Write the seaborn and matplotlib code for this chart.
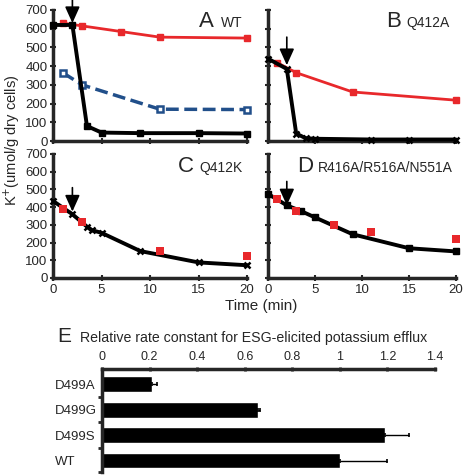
import numpy as np
import pandas as pd
import matplotlib
matplotlib.use("Agg")
import matplotlib.pyplot as plt
import seaborn as sns

# values
# panel A (WT)
a_black_t = [0, 2, 3.5, 5, 9, 15, 20]
a_black_k = [620, 620, 80, 45, 42, 42, 40]
a_red_t = [1, 3, 7, 11, 20]
a_red_k = [630, 615, 585, 555, 550]
a_blue_t = [1, 3, 11, 20]
a_blue_k = [365, 300, 170, 168]
# panel B (Q412A)
b_black_t = [0, 2, 3, 4, 5, 11, 15, 20]
b_black_k = [440, 385, 40, 15, 12, 8, 8, 8]
b_red_t = [1, 3, 9, 20]
b_red_k = [418, 365, 262, 218]
# panel C (Q412K)
c_black_t = [0, 2, 3.5, 4, 5, 9, 15, 20]
c_black_k = [435, 360, 290, 270, 255, 152, 88, 72]
c_red_t = [1, 3, 11, 20]
c_red_k = [388, 315, 155, 122]
# panel D (R416A/R516A/N551A)
d_black_t = [0, 2, 3.5, 5, 9, 15, 20]
d_black_k = [475, 410, 378, 342, 247, 168, 150]
d_red_t = [1, 3, 7, 11, 20]
d_red_k = [445, 380, 300, 260, 218]
# panel E
e_labels = ["D499A", "D499G", "D499S", "WT"]
e_rate = [0.21, 0.655, 1.19, 1.0]
e_err = [0.02, 0.01, 0.1, 0.2]

RED = "#e8282b"
BLUE = "#214f8a"
BLACK = "black"

sns.set_style("ticks")
plt.rcParams["font.family"] = ["Liberation Sans", "DejaVu Sans"]

fig = plt.figure(figsize=(4.64, 4.76), dpi=100)

W, H = 464.0, 476.0
def box(x0, y0, x1, y1):
    # pixel box -> figure fraction
    return [x0 / W, 1 - y1 / H, (x1 - x0) / W, (y1 - y0) / H]

axA = fig.add_axes(box(53, 10, 247, 141))
axB = fig.add_axes(box(268, 10, 456, 141))
axC = fig.add_axes(box(53, 154, 247, 278))
axD = fig.add_axes(box(268, 154, 456, 278))
axE = fig.add_axes(box(102, 369, 435, 472))


def line(ax, t, k, color, marker, lw=2.5, ms=4, ls="-", mfc=None, mew=1):
    df = pd.DataFrame({"t": t, "k": k})
    sns.lineplot(data=df, x="t", y="k", ax=ax, color=color, lw=lw, ls=ls,
                 marker=marker, markersize=ms, markeredgecolor=color,
                 markerfacecolor=mfc if mfc else color, markeredgewidth=mew,
                 clip_on=False, zorder=3)


def dots(ax, t, k, color):
    df = pd.DataFrame({"t": t, "k": k})
    sns.scatterplot(data=df, x="t", y="k", ax=ax, color=color, marker="s",
                    s=26, linewidth=0, clip_on=False, zorder=4)


def style(ax, xlabels, ylabels):
    ax.set_xlim(0, 20)
    ax.set_ylim(0, 700)
    ax.set_xticks([0, 5, 10, 15, 20])
    ax.set_yticks(range(0, 701, 100))
    for s in ["top", "right"]:
        ax.spines[s].set_visible(False)
    for s in ["left", "bottom"]:
        ax.spines[s].set_linewidth(2.5)
    ax.tick_params(direction="inout", length=4, width=1.5, labelsize=9.5, pad=2)
    if not xlabels:
        ax.set_xticklabels([])
    if not ylabels:
        ax.set_yticklabels([])
    ax.set_xlabel("")
    ax.set_ylabel("")


def arrow(ax, tail, tip):
    ax.annotate("", xy=(2, tip), xytext=(2, tail), xycoords="data",
                annotation_clip=False,
                arrowprops=dict(arrowstyle="-|>,head_length=1.0,head_width=0.45",
                                color="black", lw=1.2, shrinkA=0, shrinkB=0),
                zorder=6)


def label(ax, x1, x2, yb, big, small):
    ax.text(x1, yb, big, transform=ax.transAxes, fontsize=16, va="baseline")
    ax.text(x2, yb, small, transform=ax.transAxes, fontsize=10, va="baseline")


# A
line(axA, a_red_t, a_red_k, RED, "s", lw=2)
line(axA, a_blue_t, a_blue_k, BLUE, "s", lw=2.5, ls="--", ms=4, mfc="white", mew=1.8)
line(axA, a_black_t, a_black_k, BLACK, "s", lw=2.8, ms=5)
style(axA, False, True)
arrow(axA, 755, 630)
label(axA, 0.75, 0.865, 0.87, "A", "WT")

# B
line(axB, b_red_t, b_red_k, RED, "s", lw=2)
line(axB, b_black_t, b_black_k, BLACK, "x", lw=2.8, ms=4, mew=1.8)
style(axB, False, False)
arrow(axB, 555, 405)
label(axB, 0.63, 0.735, 0.87, "B", "Q412A")

# C
line(axC, c_black_t, c_black_k, BLACK, "x", lw=2.8, ms=4, mew=1.8)
dots(axC, c_red_t, c_red_k, RED)
style(axC, True, True)
arrow(axC, 510, 375)
label(axC, 0.645, 0.755, 0.855, "C", "Q412K")

# D
line(axD, d_black_t, d_black_k, BLACK, "s", lw=2.8, ms=4.5)
dots(axD, d_red_t, d_red_k, RED)
style(axD, True, False)
arrow(axD, 545, 410)
label(axD, 0.155, 0.267, 0.855, "D", "R416A/R516A/N551A")

fig.text(12 / W, 1 - 140 / H, "K$^{+}$(umol/g dry cells)", rotation=90,
         ha="center", va="center", fontsize=10.5)
fig.text(261 / W, 1 - 306 / H, "Time (min)", ha="center", va="center", fontsize=11)

# E
edf = pd.DataFrame({"mutant": e_labels, "rate": e_rate})
sns.barplot(data=edf, x="rate", y="mutant", orient="h", color="black",
            width=0.62, ax=axE, saturation=1)
pos = np.arange(len(e_labels))
axE.errorbar(e_rate, pos, xerr=[np.zeros(len(e_err)), e_err], fmt="none",
             ecolor="black", elinewidth=1, capsize=1.5, capthick=1.2)
axE.set_xlim(0, 1.4)
axE.set_ylim(3.45, -0.6)
axE.xaxis.tick_top()
axE.set_xticks([0, 0.2, 0.4, 0.6, 0.8, 1.0, 1.2, 1.4])
axE.set_xticklabels(["0", "0.2", "0.4", "0.6", "0.8", "1", "1.2", "1.4"])
axE.set_yticks(pos)
axE.set_yticks([0.5, 1.5, 2.5, 3.45], minor=True)
axE.tick_params(axis="y", which="major", length=0, labelsize=9.5, pad=34)
axE.tick_params(axis="y", which="minor", length=3, width=2, direction="out")
axE.tick_params(axis="x", length=3, width=2, direction="inout", labelsize=9, pad=3)
for s in ["bottom", "right"]:
    axE.spines[s].set_visible(False)
for s in ["top", "left"]:
    axE.spines[s].set_linewidth(2.5)
axE.set_xlabel("")
axE.set_ylabel("")
for lab in axE.get_yticklabels():
    lab.set_horizontalalignment("left")

fig.text(57 / W, 1 - 342 / H, "E", fontsize=15, va="baseline")
fig.text(80 / W, 1 - 342 / H, "Relative rate constant for ESG-elicited potassium efflux",
         fontsize=10.2, va="baseline")

fig.savefig("out.png", dpi=100)
